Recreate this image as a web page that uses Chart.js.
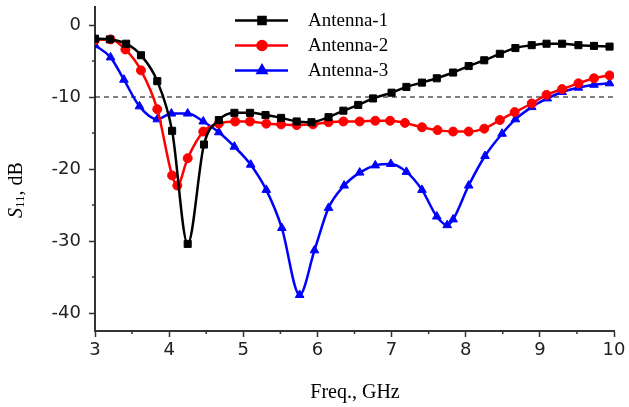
<!DOCTYPE html>
<html>
<head>
<meta charset="utf-8">
<script src="https://cdn.jsdelivr.net/npm/chart.js@4/dist/chart.umd.min.js"></script>
<style>
  html, body { margin: 0; padding: 0; background: #fff; }
  #wrap { width: 629px; height: 407px; position: relative; }
</style>
</head>
<body>
<div id="wrap"><canvas id="s11Chart" width="629" height="407"></canvas></div>
<script>
// values (GHz, dB)
var seriesNames = ['Antenna-1', 'Antenna-2', 'Antenna-3'];

var antenna1Freq = [3.0, 3.2, 3.42, 3.62, 3.84, 4.04, 4.25, 4.47, 4.67, 4.88, 5.09, 5.30, 5.51, 5.72, 5.92,
    6.15, 6.35, 6.55, 6.75, 7.0, 7.2, 7.41, 7.61, 7.83, 8.04, 8.25, 8.46, 8.67, 8.89, 9.09, 9.30, 9.52, 9.73, 9.94];
var antenna1S11 = [-1.9, -2.0, -2.6, -4.2, -7.8, -14.7, -30.4, -16.6, -13.2, -12.2, -12.2, -12.5, -12.9, -13.4, -13.5,
    -12.8, -11.9, -11.1, -10.2, -9.4, -8.6, -8.0, -7.4, -6.6, -5.7, -4.9, -4.0, -3.2, -2.8, -2.6, -2.6, -2.8, -2.9, -3.0];

var antenna2Freq = [3.0, 3.21, 3.41, 3.62, 3.84, 4.04, 4.11, 4.25, 4.46, 4.67, 4.89, 5.09, 5.31, 5.51, 5.72, 5.94,
    6.15, 6.35, 6.57, 6.78, 6.98, 7.18, 7.41, 7.62, 7.83, 8.04, 8.25, 8.46, 8.66, 8.89, 9.09, 9.30, 9.52, 9.73, 9.94];
var antenna2S11 = [-2.1, -2.0, -3.4, -6.3, -11.7, -20.9, -22.3, -18.5, -14.8, -13.7, -13.4, -13.4, -13.7, -13.8, -13.9, -13.8,
    -13.5, -13.4, -13.4, -13.3, -13.3, -13.6, -14.2, -14.6, -14.8, -14.8, -14.4, -13.2, -12.1, -10.9, -9.7, -8.9, -8.1, -7.4, -7.0];

var antenna3Freq = [3.0, 3.21, 3.39, 3.60, 3.84, 4.03, 4.25, 4.46, 4.67, 4.88, 5.10, 5.31, 5.52, 5.76, 5.96,
    6.15, 6.36, 6.57, 6.78, 6.99, 7.2, 7.41, 7.61, 7.75, 7.83, 8.04, 8.26, 8.49, 8.67, 8.89, 9.10, 9.30, 9.52, 9.73, 9.94];
var antenna3S11 = [-2.8, -4.5, -7.6, -11.3, -13.1, -12.3, -12.3, -13.4, -14.9, -16.9, -19.4, -22.9, -28.2, -37.5, -31.3,
    -25.4, -22.3, -20.5, -19.5, -19.3, -20.4, -22.9, -26.6, -27.8, -27.0, -22.3, -18.2, -15.1, -13.1, -11.4, -10.2, -9.3, -8.7, -8.3, -8.1];

var thresholdDb = -10;
var xTickValues = [3, 4, 5, 6, 7, 8, 9, 10];
var yTickValues = [-40, -30, -20, -10, 0];

function toPoints(xs, ys) {
    return xs.map(function (x, i) { return { x: x, y: ys[i] }; });
}

var AXIS_COLOR = '#333';
var SERIF = '"Liberation Serif", "Times New Roman", serif';

function seriesStyle(label, color, style, radius, xs, ys) {
    return {
        label: label,
        data: toPoints(xs, ys),
        borderColor: color,
        backgroundColor: color,
        borderWidth: 2.5,
        pointStyle: style,
        pointRadius: radius,
        pointBorderWidth: 1,
        pointHoverRadius: radius,
        cubicInterpolationMode: 'monotone',
        fill: false
    };
}

// minor ticks, axis titles and the legend inside the plot
var decorations = {
    id: 'decorations',
    afterDraw: function (chart) {
        var ctx = chart.ctx;
        var xs = chart.scales.x, ys = chart.scales.y;
        var area = chart.chartArea;
        ctx.save();
        ctx.strokeStyle = AXIS_COLOR;
        ctx.lineWidth = 1.5;
        ctx.beginPath();
        for (var v = 3.5; v < 10; v += 1) {
            var px = xs.getPixelForValue(v);
            ctx.moveTo(px, area.bottom);
            ctx.lineTo(px, area.bottom + 3);
        }
        for (var w = -35; w <= 0; w += 10) {
            var py = ys.getPixelForValue(w);
            ctx.moveTo(area.left, py);
            ctx.lineTo(area.left - 3, py);
        }
        ctx.stroke();

        // x title
        ctx.fillStyle = '#000';
        ctx.font = '20px ' + SERIF;
        ctx.textAlign = 'center';
        ctx.textBaseline = 'middle';
        ctx.fillText('Freq., GHz', 355, 393);

        // y title: S11, dB (italic S, subscript 11)
        ctx.translate(17, 190);
        ctx.rotate(-Math.PI / 2);
        var parts = [
            { t: 'S', f: 'italic 20px ' + SERIF, dy: 0 },
            { t: '11', f: '13px ' + SERIF, dy: 4 },
            { t: ', dB', f: '20px ' + SERIF, dy: 0 }
        ];
        var total = 0;
        parts.forEach(function (p) { ctx.font = p.f; total += ctx.measureText(p.t).width; });
        var cx = -total / 2;
        ctx.textAlign = 'left';
        ctx.textBaseline = 'middle';
        parts.forEach(function (p) {
            ctx.font = p.f;
            ctx.fillText(p.t, cx, p.dy);
            cx += ctx.measureText(p.t).width;
        });
        ctx.restore();

        // legend
        ctx.save();
        var rows = [20.5, 45.5, 70.5];
        for (var i = 0; i < 3; i++) {
            var ds = chart.data.datasets[i];
            var y = rows[i];
            ctx.strokeStyle = ds.borderColor;
            ctx.lineWidth = 2.5;
            ctx.beginPath();
            ctx.moveTo(235, y);
            ctx.lineTo(288, y);
            ctx.stroke();
            ctx.fillStyle = ds.backgroundColor;
            Chart.helpers.drawPoint(ctx, {
                pointStyle: ds.pointStyle, radius: ds.pointRadius, rotation: 0, borderWidth: 1
            }, 262, y);
            ctx.fillStyle = '#000';
            ctx.font = '19px ' + SERIF;
            ctx.textAlign = 'left';
            ctx.textBaseline = 'middle';
            ctx.fillText(seriesNames[i], 308, y + 1);
        }
        ctx.restore();
    }
};

var tickFont = { family: '"DejaVu Sans", Arial, sans-serif', size: 18 };

new Chart(document.getElementById('s11Chart'), {
    type: 'line',
    data: {
        datasets: [
            seriesStyle(seriesNames[0], '#000000', 'rect', 5, antenna1Freq, antenna1S11),
            seriesStyle(seriesNames[1], '#ff0000', 'circle', 4.5, antenna2Freq, antenna2S11),
            seriesStyle(seriesNames[2], '#0000ff', 'triangle', 5, antenna3Freq, antenna3S11),
            {
                label: 'threshold',
                data: [{ x: 3, y: thresholdDb }, { x: 10, y: thresholdDb }],
                borderColor: '#000',
                borderWidth: 1,
                borderDash: [5, 4],
                pointRadius: 0,
                fill: false
            }
        ]
    },
    options: {
        responsive: false,
        animation: false,
        events: [],
        layout: { padding: { left: 0, right: 15, top: 7, bottom: 0 } },
        plugins: { legend: { display: false }, tooltip: { enabled: false } },
        scales: {
            x: {
                type: 'linear',
                min: 3,
                max: 10,
                afterFit: function (s) { s.height = 76; },
                afterBuildTicks: function (s) {
                    s.ticks = xTickValues.map(function (v) { return { value: v }; });
                },
                grid: { display: true, drawOnChartArea: false, drawTicks: true, tickLength: 6, tickColor: AXIS_COLOR, tickWidth: 1.5 },
                border: { display: true, color: AXIS_COLOR, width: 2 },
                ticks: { color: '#222', font: tickFont, padding: 3, maxRotation: 0 }
            },
            y: {
                type: 'linear',
                min: -42.5,
                max: 2.5,
                afterFit: function (s) { s.width = 95; s.paddingTop = 0; s.paddingBottom = 0; },
                afterBuildTicks: function (s) {
                    s.ticks = yTickValues.map(function (v) { return { value: v }; });
                },
                grid: { display: true, drawOnChartArea: false, drawTicks: true, tickLength: 6, tickColor: AXIS_COLOR, tickWidth: 1.5 },
                border: { display: true, color: AXIS_COLOR, width: 2 },
                ticks: { color: '#222', font: tickFont, padding: 8 }
            }
        }
    },
    plugins: [decorations]
});
</script>
</body>
</html>
